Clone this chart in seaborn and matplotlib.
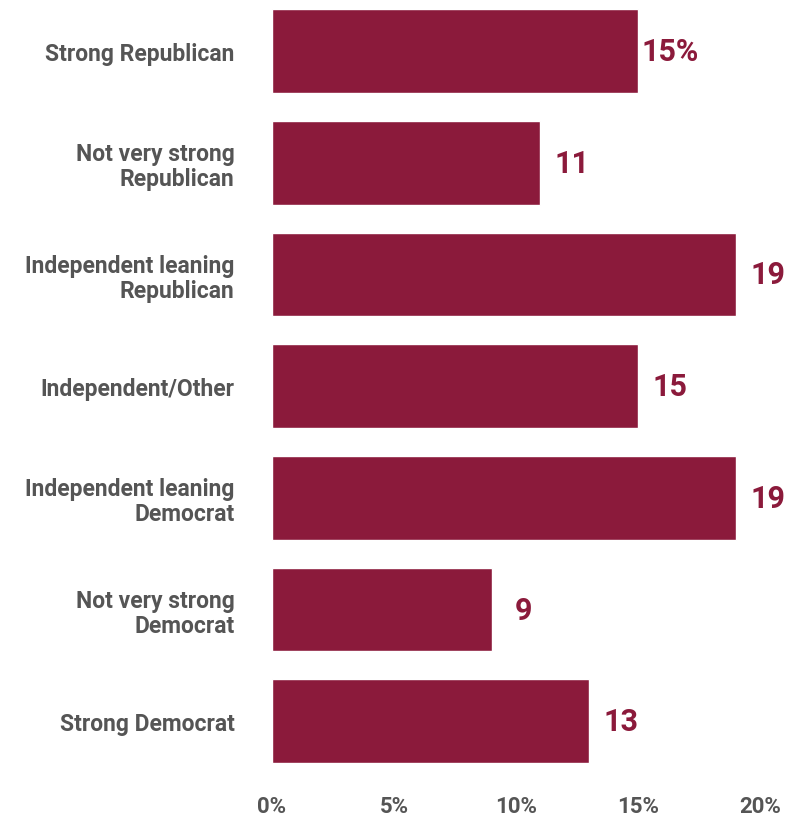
import matplotlib
matplotlib.use("Agg")
import matplotlib.pyplot as plt
import seaborn as sns
import pandas as pd

categories = [
    "Strong Republican",
    "Not very strong\nRepublican",
    "Independent leaning\nRepublican",
    "Independent/Other",
    "Independent leaning\nDemocrat",
    "Not very strong\nDemocrat",
    "Strong Democrat",
]
values = [15, 11, 19, 15, 19, 9, 13]
value_labels = ["15%", "11", "19", "15", "19", "9", "13"]
x_ticks = [0, 5, 10, 15, 20]
x_tick_labels = ["0%", "5%", "10%", "15%", "20%"]

BAR = "#8b1a3b"
TEXT = "#555555"

sns.set_theme(style="white")
plt.rcParams["font.family"] = ["Roboto", "DejaVu Sans"]

df = pd.DataFrame({"category": categories, "value": values})

W, H = 788, 820
fig = plt.figure(figsize=(W / 100, H / 100), dpi=100)
step = 111.7
top_px = 52 - 0.5 * step
bot_px = 52 + 6.5 * step
ax = fig.add_axes([272 / W, 1 - bot_px / H, (760 - 272) / W, (bot_px - top_px) / H])

sns.barplot(data=df, y="category", x="value", orient="h", color=BAR,
            saturation=1, width=0.75, ax=ax)

ax.set_xlim(0, 20)
ax.set_ylim(6.5, -0.5)
ax.set_xlabel("")
ax.set_ylabel("")
ax.set_xticks(x_ticks)
ax.set_xticklabels(x_tick_labels)
sns.despine(ax=ax, left=True, bottom=True)
ax.tick_params(axis="both", length=0, colors=TEXT)
ax.tick_params(axis="y", pad=27)
ax.tick_params(axis="x", pad=13)
for lab in ax.get_yticklabels():
    lab.set_fontsize(16.5)
    lab.set_fontweight("bold")
    lab.set_color(TEXT)
    lab.set_linespacing(1.12)
    lab.set_horizontalalignment("right")
    lab.set_multialignment("right")
for lab in ax.get_xticklabels():
    lab.set_fontsize(16)
    lab.set_fontweight("bold")
    lab.set_color(TEXT)

for i, (v, t) in enumerate(zip(values, value_labels)):
    ax.annotate(t, xy=(v, i), xytext=(23, 0), textcoords="offset points",
                ha="center", va="center", fontsize=22, fontweight="bold",
                color=BAR, annotation_clip=False)

fig.savefig("out.png", dpi=100)
